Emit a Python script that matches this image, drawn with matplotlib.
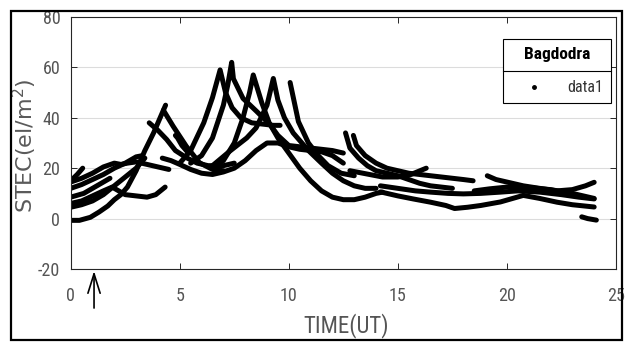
import matplotlib
matplotlib.use("Agg")
import matplotlib.pyplot as plt
from matplotlib.lines import Line2D
from matplotlib.patches import Rectangle

NARROW = ['Liberation Sans Narrow', 'Roboto Condensed', 'DejaVu Sans']
plt.rcParams['font.family'] = NARROW
plt.rcParams['axes.unicode_minus'] = False

# ---- data: STEC arcs (TIME in UT hours, STEC in el/m^2) ----
t_a01 = [0, 0.4, 0.9, 1.3, 1.7, 2.0, 2.3, 2.6, 3.0, 3.4, 3.8, 4.1, 4.35]
v_a01 = [-0.7, -0.7, 0.5, 2.6, 5, 7.5, 9.5, 12.5, 19, 27, 34, 40, 45]
t_a02 = [0, 0.5, 1, 1.5, 1.9, 2.2, 2.5, 3, 3.5, 3.9, 4.33]
v_a02 = [6, 7, 9, 11, 12.5, 11, 9.5, 9, 8.5, 9.5, 12.5]
t_a03 = [0, 0.5, 1, 1.5, 2, 2.5, 3, 3.4]
v_a03 = [4.5, 5.5, 7, 9.5, 13, 16.5, 20, 24]
t_a04 = [0, 0.5, 1, 1.5, 2, 2.3, 2.6, 3, 3.5, 4, 4.5]
v_a04 = [14.5, 16, 18, 20.5, 22, 21.5, 22, 22.5, 21.5, 20.5, 19.5]
t_a05 = [0, 0.5, 1, 1.5, 2, 2.5, 3, 3.3]
v_a05 = [12, 13.5, 15.5, 17.5, 20, 22, 24.5, 25]
t_a06 = [0, 0.3, 0.55]
v_a06 = [15, 17.5, 20]
t_a07 = [0, 0.6, 1.2, 1.8]
v_a07 = [8.5, 10, 13, 16]
t_a08 = [3.6, 4.0, 4.4, 4.8, 5.3, 5.8, 6.3, 7.0, 7.5]
v_a08 = [38, 35, 31.4, 27, 24.2, 22, 21, 21, 22]
t_a09 = [4.25, 4.7, 5.3, 5.9, 6.5, 7.0]
v_a09 = [43, 36.6, 28.7, 22.2, 19.5, 19]
t_a10 = [4.8, 4.9, 5.1, 5.4]
v_a10 = [33, 32, 29, 26]
t_a11 = [4.2, 4.6, 5, 5.5, 6, 6.5, 7, 7.5, 8, 8.5, 9, 9.5, 10, 10.5, 11, 11.5, 12, 12.5]
v_a11 = [24, 23, 21.5, 19.5, 18, 17.5, 18.5, 20, 23, 27, 30, 30, 28.5, 27.5, 27, 26.5, 25, 22]
t_a12 = [5.0, 5.5, 6.1, 6.5, 6.85, 7.1, 7.4, 7.8, 8.3, 8.8, 9.3, 9.6]
v_a12 = [22, 27, 38, 48, 59, 50, 44, 40, 38, 37.5, 37, 37]
t_a13 = [5.5, 6, 6.5, 7, 7.2, 7.38, 7.46, 7.9, 8.53, 9.14, 9.5, 10, 11, 12, 12.5]
v_a13 = [22, 25, 32, 45, 53, 62, 55.5, 47.7, 42.5, 37.3, 33, 29, 28, 27, 26]
t_a14 = [6.5, 7.0, 7.5, 7.9, 8.2, 8.37, 8.76, 9.1, 9.5, 10, 10.5, 11, 11.5, 12, 12.5, 13, 13.5, 14, 14.3]
v_a14 = [20, 23, 30, 40, 50, 57, 46, 38, 32, 26, 20, 15, 11, 8.5, 7.5, 7.5, 8.5, 10, 10.5]
t_a15 = [6.5, 7.3, 8.07, 8.5, 9.0, 9.29, 9.5, 9.8, 10.2, 10.9, 11.5, 12, 12.5, 13, 13.5, 14]
v_a15 = [21, 26.8, 32, 36, 45, 55.6, 47, 40, 34, 27, 22, 18, 15, 13, 12, 12]
t_a16 = [10.06, 10.44, 10.9, 11.35, 11.8, 12.4, 13]
v_a16 = [54, 38.5, 30, 25, 21, 18, 17]
t_a17 = [12.6, 12.8, 13.2, 13.6, 14, 14.5, 15, 15.5, 16, 16.5, 17, 17.5]
v_a17 = [34, 28, 24, 21, 19, 18, 17, 15.5, 14, 13, 12.5, 12]
t_a18 = [12.96, 13.1, 13.5, 14, 14.5, 15, 15.5, 16, 16.5, 17, 17.5, 18, 18.45]
v_a18 = [33, 29, 25, 22, 20, 19, 18, 17.5, 17, 16.5, 16, 15.5, 15]
t_a19 = [12.8, 13.7, 14.3, 15, 15.6, 16.3]
v_a19 = [19, 17.5, 16.5, 16.5, 17.5, 20]
t_a20 = [14.2, 15, 15.7, 16.5, 17.2, 17.6, 18.2, 18.8, 19.7, 20.75, 21.5, 22.3, 23, 24]
v_a20 = [10.6, 9, 7.8, 6.5, 5.2, 4, 4.5, 5.2, 6.6, 9.2, 8, 6.5, 5.5, 4.6]
t_a21 = [14.2, 15, 15.8, 16.5, 17.3, 18, 18.8, 19.7, 20.5, 21.5, 22.5, 23.3, 24]
v_a21 = [13, 12, 11, 10.5, 10, 9.8, 10, 10.5, 11, 10.5, 9.5, 8.5, 7.8]
t_a22 = [19.1, 19.5, 20, 20.75, 21.5, 22.3, 23, 23.6, 24]
v_a22 = [17, 15.5, 14.5, 13, 12, 11, 11.5, 13, 14.4]
t_a23 = [18.5, 19.2, 20, 21, 22, 23, 24]
v_a23 = [11, 11.8, 12.5, 12.3, 11.5, 10, 8]
t_a24 = [23.43, 23.7, 24.1]
v_a24 = [0.7, 0, -0.6]

arcs = [(t_a01, v_a01), (t_a02, v_a02), (t_a03, v_a03), (t_a04, v_a04), (t_a05, v_a05),
        (t_a06, v_a06), (t_a07, v_a07), (t_a08, v_a08), (t_a09, v_a09), (t_a10, v_a10),
        (t_a11, v_a11), (t_a12, v_a12), (t_a13, v_a13), (t_a14, v_a14), (t_a15, v_a15),
        (t_a16, v_a16), (t_a17, v_a17), (t_a18, v_a18), (t_a19, v_a19), (t_a20, v_a20),
        (t_a21, v_a21), (t_a22, v_a22), (t_a23, v_a23), (t_a24, v_a24)]

x_ticks = [0, 5, 10, 15, 20, 25]
y_ticks = [-20, 0, 20, 40, 60, 80]
station = 'Bagdodra'
series_label = 'data1'
event_time = 1.07

# ---- figure ----
fig = plt.figure(figsize=(6.29, 3.42), dpi=100)
fig.patch.set_facecolor('white')
ax = fig.add_axes([0.1124, 0.2135, 0.8669, 0.7368])

for t, v in arcs:
    ax.plot(t, v, color='black', lw=3.6, solid_capstyle='round', solid_joinstyle='round')

ax.set_xlim(0, 25)
ax.set_ylim(-20, 80)
ax.set_xticks(x_ticks)
ax.set_yticks(y_ticks)
ax.yaxis.grid(True, color='#dcdcdc', lw=0.8)
ax.set_axisbelow(True)
ax.tick_params(direction='in', top=True, right=True, length=4, width=0.7,
               color='#262626', labelcolor='#555555', labelsize=13)
ax.tick_params(axis='x', pad=13)
ax.tick_params(axis='y', pad=7.5)
for s in ax.spines.values():
    s.set_color('#262626')
    s.set_linewidth(0.8)

ax.set_xlabel('TIME(UT)', fontsize=16.5, color='#555555')
ax.xaxis.set_label_coords(0.505, -0.175)
ax.set_ylabel('STEC(el/m$^2$)', fontsize=16, color='#5a5a5a', va='center',
              family=['DejaVu Sans'])
ax.yaxis.set_label_coords(-0.084, 0.49)

# arrow marking the event time
ax.annotate('', xy=(event_time, -20.8), xycoords='data',
            xytext=(event_time, -35.5), textcoords='data', annotation_clip=False,
            arrowprops=dict(arrowstyle='->,head_length=0.7,head_width=0.22',
                            mutation_scale=20, lw=1.2, color='black',
                            shrinkA=0, shrinkB=0))

# legend
proxy = Line2D([], [], marker='.', ls='none', color='black', markersize=5, label=series_label)
leg = ax.legend(handles=[proxy], title=station, loc='upper left',
                bbox_to_anchor=(0.793, 0.659, 0.198, 0.254), mode='expand',
                fontsize=11.5, title_fontproperties={'weight': 'bold', 'size': 12.5},
                fancybox=False, framealpha=1, edgecolor='black',
                borderpad=0.5, labelspacing=1.15, handlelength=2.9, handletextpad=0.6,
                borderaxespad=0)
leg.get_frame().set_linewidth(0.8)
for txt in leg.get_texts():
    txt.set_color('#333333')

fig.canvas.draw()
r = fig.canvas.get_renderer()
lb = leg.get_window_extent(r)
tb = leg.get_title().get_window_extent(r)
eb = leg.get_texts()[0].get_window_extent(r)
ymid = (tb.y0 + eb.y1) / 2.0
inv = fig.transFigure.inverted()
(fx0, fy), (fx1, _) = inv.transform([(lb.x0, ymid), (lb.x1, ymid)])
fig.add_artist(Line2D([fx0, fx1], [fy, fy], transform=fig.transFigure, color='black', lw=0.8))

# outer frame of the picture
fig.add_artist(Rectangle((0.0175, 0.0058), 0.9715, 0.962, transform=fig.transFigure,
                         fill=False, lw=1.6, ec='black'))

fig.savefig('out.png', dpi=100)
